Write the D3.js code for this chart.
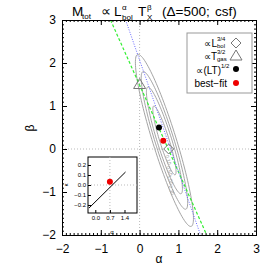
<!DOCTYPE html>
<html>
<head>
<meta charset="utf-8">
<script src="https://cdn.jsdelivr.net/npm/d3@7"></script>
<style>
  body { margin: 0; background: #fff; }
  svg { display: block; font-family: "Liberation Sans", Arial, sans-serif; }
</style>
</head>
<body>
<div class="container"></div>
<script>
// values
const majorTicks = [-2, -1, 0, 1, 2, 3];
const greenLine = [[-0.75, 3], [1.73, -2]];
const blueLine = [[-0.36, 3], [1.57, -2]];
const contourCentre = [0.64, 0.2];
const contourMajor = [0.69, -2.0];
const contourMinor = [0.29, 0.08];
const contourScale = [1.0, 0.8, 0.62, 0.4];
const contourLabels = ["2.30", "1.00", "0.50", "0.10"];
const modelNames = ["diamond", "triangle", "lt", "best"];
const modelA = [0.75, 0, 0.5, 0.61];
const modelB = [0, 1.5, 0.5, 0.19];
const insetXTicks = [0.0, 0.7, 1.4];
const insetYTicks = [0.2, 0.1, 0.0, -0.1, -0.2];
const insetLine = [[-0.3, -0.23], [1.45, 0.13]];
const insetBest = [0.7, 0.033];

const W = 274, H = 274;
const svg = d3.select(".container")
    .append("svg")
        .attr("width", W)
        .attr("height", H);

const x = d3.scaleLinear().domain([-2, 3]).range([62, 256]);
const y = d3.scaleLinear().domain([-2, 3]).range([235, 20]);

// zero lines
svg.append("line")
    .attr("x1", x(0)).attr("x2", x(0)).attr("y1", y(3)).attr("y2", y(-2))
    .attr("stroke", "#bbb").attr("stroke-dasharray", "1,2");
svg.append("line")
    .attr("x1", x(-2)).attr("x2", x(3)).attr("y1", y(0)).attr("y2", y(0))
    .attr("stroke", "#bbb").attr("stroke-dasharray", "1,2");

// contours
const ell = d3.line().x(d => x(d[0])).y(d => y(d[1]));
contourScale.forEach(function(s, i) {
    const pts = d3.range(0, 2 * Math.PI + 0.01, Math.PI / 60).map(function(t) {
        return [contourCentre[0] + s * (Math.cos(t) * contourMajor[0] + Math.sin(t) * contourMinor[0]),
                contourCentre[1] + s * (Math.cos(t) * contourMajor[1] + Math.sin(t) * contourMinor[1])];
    });
    svg.append("path")
        .attr("d", ell(pts))
        .attr("fill", "none")
        .attr("stroke", "#9a9a9a")
        .attr("stroke-width", 0.9);
    const lp = [contourCentre[0] + s * (0.55 * contourMajor[0] - 0.83 * contourMinor[0]),
                contourCentre[1] + s * (0.55 * contourMajor[1] - 0.83 * contourMinor[1])];
    svg.append("text")
        .attr("transform", `translate(${x(lp[0])},${y(lp[1])}) rotate(73)`)
        .attr("font-size", 5)
        .attr("fill", "#999")
        .attr("text-anchor", "middle")
        .text(contourLabels[i]);
});

// fit lines
svg.append("path")
    .attr("d", d3.line().x(d => x(d[0])).y(d => y(d[1]))(greenLine))
    .attr("stroke", "#33ee33").attr("stroke-width", 1.2)
    .attr("stroke-dasharray", "3,2");
svg.append("path")
    .attr("d", d3.line().x(d => x(d[0])).y(d => y(d[1]))(blueLine))
    .attr("stroke", "#6666ff").attr("stroke-width", 1)
    .attr("stroke-dasharray", "1,1.5");

// markers
function marker(g, name, px, py) {
    if (name === "diamond") {
        g.append("path").attr("d", `M${px},${py - 5}L${px + 5},${py}L${px},${py + 5}L${px - 5},${py}Z`)
            .attr("fill", "none").attr("stroke", "#777");
    } else if (name === "triangle") {
        g.append("path").attr("d", `M${px},${py - 6}L${px + 6},${py + 4}L${px - 6},${py + 4}Z`)
            .attr("fill", "none").attr("stroke", "#777");
    } else {
        g.append("circle").attr("cx", px).attr("cy", py).attr("r", 3)
            .attr("fill", name === "best" ? "#ee0000" : "#000");
    }
}
modelNames.forEach((n, i) => marker(svg, n, x(modelA[i]), y(modelB[i])));

// axes
const minor = x.ticks(50);
svg.append("g").attr("transform", `translate(0,${y(-2)})`)
    .call(d3.axisBottom(x).tickValues(minor).tickSize(-2).tickFormat(""));
svg.append("g").attr("transform", `translate(0,${y(3)})`)
    .call(d3.axisTop(x).tickValues(minor).tickSize(-2).tickFormat(""));
svg.append("g").attr("transform", `translate(${x(-2)},0)`)
    .call(d3.axisLeft(y).tickValues(minor).tickSize(-2).tickFormat(""));
svg.append("g").attr("transform", `translate(${x(3)},0)`)
    .call(d3.axisRight(y).tickValues(minor).tickSize(-2).tickFormat(""));

const fmt = d => d < 0 ? "\u2212" + Math.abs(d) : d;
const xb = svg.append("g").attr("transform", `translate(0,${y(-2)})`)
    .call(d3.axisBottom(x).tickValues(majorTicks).tickSize(-5).tickPadding(9).tickFormat(fmt));
svg.append("g").attr("transform", `translate(0,${y(3)})`)
    .call(d3.axisTop(x).tickValues(majorTicks).tickSize(-5).tickFormat(""));
const yl = svg.append("g").attr("transform", `translate(${x(-2)},0)`)
    .call(d3.axisLeft(y).tickValues(majorTicks).tickSize(-5).tickPadding(6).tickFormat(fmt));
svg.append("g").attr("transform", `translate(${x(3)},0)`)
    .call(d3.axisRight(y).tickValues(majorTicks).tickSize(-5).tickFormat(""));
svg.selectAll(".domain").attr("stroke", "#000");
svg.selectAll(".tick line").attr("stroke", "#000");
xb.selectAll("text").attr("font-size", 12).attr("font-family", "Liberation Sans");
yl.selectAll("text").attr("font-size", 12).attr("font-family", "Liberation Sans");

// axis titles
svg.append("text").attr("x", 159).attr("y", 263).attr("text-anchor", "middle")
    .attr("font-size", 12).text("\u03b1");
svg.append("text").attr("transform", "translate(34,128) rotate(-90)").attr("text-anchor", "middle")
    .attr("font-size", 12).text("\u03b2");

// title, pieces placed one by one
const tg = svg.append("g").attr("font-size", 13.5).attr("fill", "#000");
const tpart = (tx, ty, s, fs) => tg.append("text").attr("x", tx).attr("y", ty)
    .attr("font-size", fs || null).text(s);
tpart(72, 16, "M");
tpart(82, 19, "tot", 8);
tpart(101, 16, "\u221d");
tpart(114, 16, "L");
tpart(122, 10, "\u03b1", 8);
tpart(122, 20, "bol", 8);
tpart(138, 16, "T");
tpart(147, 10, "\u03b2", 8);
tpart(147, 20, "X", 8);
tpart(162, 16, "(\u0394=500;");
tpart(215, 16, "csf)");

// legend
svg.append("rect").attr("x", 187).attr("y", 33).attr("width", 65).attr("height", 60)
    .attr("fill", "#fff").attr("stroke", "#999");
const legY = [43, 56, 69, 83];
const lg = svg.append("g").attr("font-size", 10);
const lt = (tx, ty, s, fs, anchor) => lg.append("text").attr("x", tx).attr("y", ty)
    .attr("font-size", fs || null).attr("text-anchor", anchor || "start").text(s);
lt(217, 47, "\u221dL", null, "end");
lt(217, 41, "3/4", 6);
lt(217, 48, "bol", 6);
lt(217, 60, "\u221dT", null, "end");
lt(217, 54, "3/2", 6);
lt(217, 60.5, "gas", 6);
lt(221, 74, "\u221d(LT)", null, "end");
lt(221, 67.5, "1/2", 6);
lt(227, 86.5, "best\u2212fit", null, "end");
modelNames.forEach((n, i) => marker(svg, n, 236, legY[i]));

// inset
const ix = d3.scaleLinear().domain([-0.35, 2.0]).range([88, 137]);
const iy = d3.scaleLinear().domain([-0.28, 0.28]).range([213, 157]);
const inset = svg.append("g");
inset.append("rect").attr("x", 88).attr("y", 157).attr("width", 49).attr("height", 56)
    .attr("fill", "#fff").attr("stroke", "#000");
inset.append("line").attr("x1", 88).attr("x2", 137).attr("y1", iy(0)).attr("y2", iy(0))
    .attr("stroke", "#bbb").attr("stroke-dasharray", "1,2");
inset.append("line").attr("x1", ix(insetBest[0])).attr("x2", ix(insetBest[0])).attr("y1", 157).attr("y2", 213)
    .attr("stroke", "#bbb").attr("stroke-dasharray", "1,2");
inset.append("path").attr("d", d3.line().x(d => ix(d[0])).y(d => iy(d[1]))(insetLine))
    .attr("stroke", "#000");
inset.append("circle").attr("cx", ix(insetBest[0])).attr("cy", iy(insetBest[1])).attr("r", 3)
    .attr("fill", "#ee0000");
inset.append("g").attr("transform", "translate(0,213)")
    .call(d3.axisBottom(ix).tickValues(insetXTicks).tickSize(-3).tickPadding(3).tickFormat(d3.format(".1f")))
    .call(g => g.selectAll("text").attr("font-size", 6));
inset.append("g").attr("transform", "translate(88,0)")
    .call(d3.axisLeft(iy).tickValues(insetYTicks).tickSize(-3).tickPadding(2)
        .tickFormat(d => d < 0 ? "\u2212" + Math.abs(d).toFixed(1) : d.toFixed(1)))
    .call(g => g.selectAll("text").attr("font-size", 6));
inset.selectAll(".domain").remove();
inset.selectAll(".tick line").attr("stroke", "#000");
inset.append("text").attr("x", 112).attr("y", 234).attr("text-anchor", "middle")
    .attr("font-size", 6).text("\u03b1");
inset.append("text").attr("transform", "translate(68,185) rotate(-90)").attr("text-anchor", "middle")
    .attr("font-size", 6).text("\u03ba");
</script>
</body>
</html>
